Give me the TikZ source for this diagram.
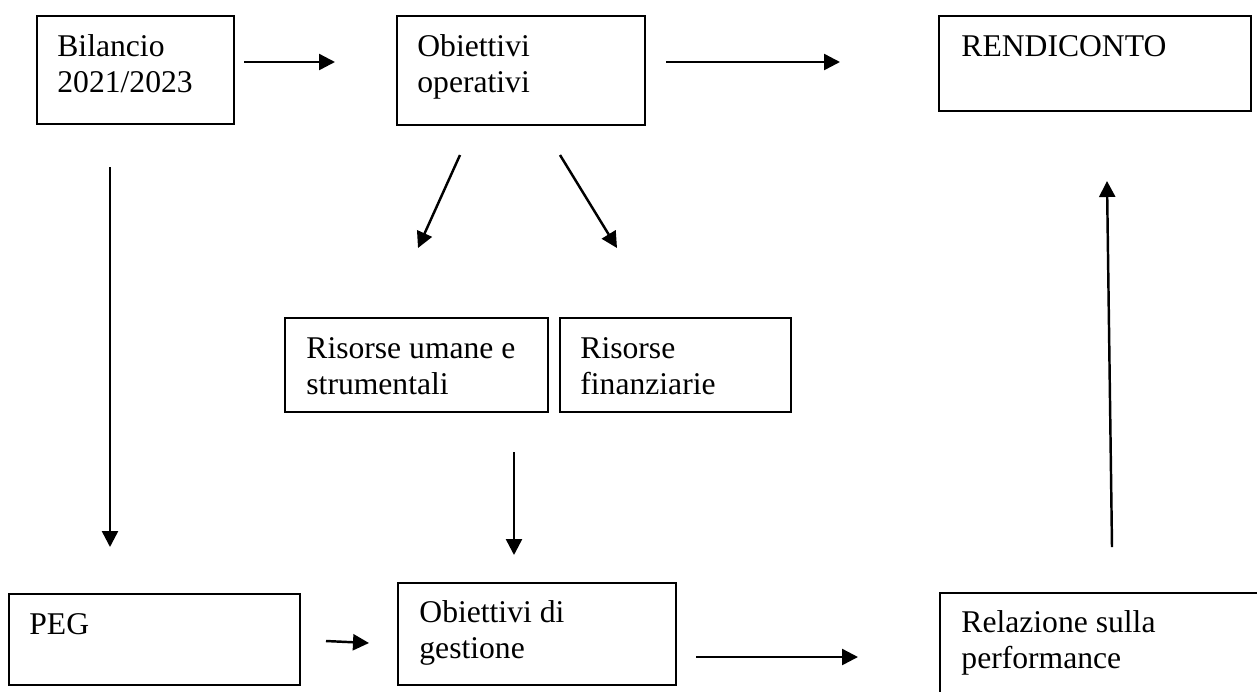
\documentclass[tikz,border=0pt]{standalone}
\usepackage{fontspec}
\setmainfont{Liberation Serif}
\usetikzlibrary{arrows.meta}

\begin{document}
\begin{tikzpicture}[x=0.02cm, y=-0.02cm,
	box/.style={draw, line width=1.1pt, inner sep=0pt},
	lbl/.style={inner sep=0pt, align=left, anchor=base west, font=\fontsize{18}{20.5}\selectfont},
	arr/.style={line width=1.4pt, -{Triangle[length=0.32cm, width=0.32cm]}}]
	\useasboundingbox (0,0) rectangle (1257,691);
	\clip (0,0) rectangle (1257,691);

	\node [box, minimum width=3.94cm, minimum height=2.16cm] (bil) at (135.5,70) {};
	\node [box, minimum width=4.96cm, minimum height=2.18cm] (obop) at (521,70.5) {};
	\node [box, minimum width=6.24cm, minimum height=1.90cm] (rend) at (1095,63.5) {};
	\node [box, minimum width=5.26cm, minimum height=1.88cm] (rum) at (416.5,365) {};
	\node [box, minimum width=4.62cm, minimum height=1.88cm] (rfin) at (675.5,365) {};
	\node [box, minimum width=5.82cm, minimum height=1.82cm] (peg) at (154.5,639.5) {};
	\node [box, minimum width=5.56cm, minimum height=2.04cm] (odg) at (537,634) {};
	\node [box, minimum width=7.60cm, minimum height=3.34cm] (rel) at (1130,676.5) {};

	% two-line labels sit on their last baseline
	\node [lbl] (bilt) at ([shift={(21,77)}]bil.north west) {Bilancio\\2021/2023};
	\node [lbl] (obopt) at ([shift={(21,77)}]obop.north west) {Obiettivi\\operativi};
	\node [lbl] (rendt) at ([shift={(23,41)}]rend.north west) {RENDICONTO};
	\node [lbl] (rumt) at ([shift={(22,77)}]rum.north west) {Risorse umane e\\strumentali};
	\node [lbl] (rfint) at ([shift={(21,77)}]rfin.north west) {Risorse\\finanziarie};
	\node [lbl] (pegt) at ([shift={(21,41)}]peg.north west) {PEG};
	\node [lbl] (odgt) at ([shift={(22,76)}]odg.north west) {Obiettivi di\\gestione};
	\node [lbl] (relt) at ([shift={(22,76)}]rel.north west) {Relazione sulla\\performance};

	\coordinate (a1) at (244,62);
	\coordinate (b1) at (335,62);
	\coordinate (a2) at (666,62);
	\coordinate (b2) at (840,62);
	\coordinate (a3) at (460,155);
	\coordinate (b3) at (418,248);
	\coordinate (a4) at (560,155);
	\coordinate (b4) at (617,248);
	\coordinate (a5) at (110,167);
	\coordinate (b5) at (110,547);
	\coordinate (a6) at (514,452);
	\coordinate (b6) at (514,555);
	\coordinate (a7) at (326,641);
	\coordinate (b7) at (369,643);
	\coordinate (a8) at (696,657);
	\coordinate (b8) at (858,657);
	\coordinate (a9) at (1112,547);
	\coordinate (b9) at (1107,181);

	\draw [arr] (a1) -- (b1);
	\draw [arr] (a2) -- (b2);
	\draw [arr] (a3) -- (b3);
	\draw [arr] (a4) -- (b4);
	\draw [arr] (a5) -- (b5);
	\draw [arr] (a6) -- (b6);
	\draw [arr] (a7) -- (b7);
	\draw [arr] (a8) -- (b8);
	\draw [arr] (a9) -- (b9);
\end{tikzpicture}
\end{document}
